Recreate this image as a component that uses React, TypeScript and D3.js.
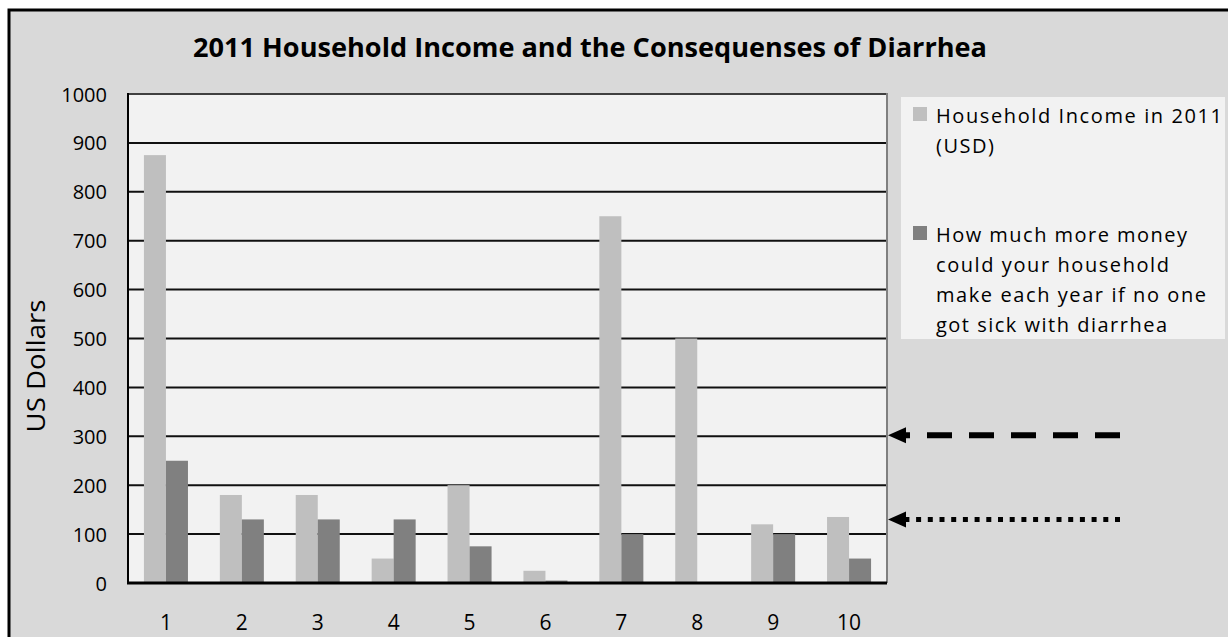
import React from "react";
import * as d3 from "d3";

const categories = ["1", "2", "3", "4", "5", "6", "7", "8", "9", "10"];
const incomeValues = [875, 180, 180, 50, 200, 25, 750, 500, 120, 135];
const extraValues = [250, 130, 130, 130, 75, 5, 100, 0, 100, 50];
const yTicks = [0, 100, 200, 300, 400, 500, 600, 700, 800, 900, 1000];
const seriesNames = ["Household Income in 2011 (USD)", "How much more money could your household make each year if no one got sick with diarrhea"];
const legendLines1 = ["Household Income in 2011", "(USD)"];
const legendLines2 = ["How much more money", "could your household", "make each year if no one", "got sick with diarrhea"];
const legendWidths1 = [286, 58];
const legendWidths2 = [251, 233, 270, 231];
const arrowValues = [300, 130];

const W = 1228;
const H = 637;
const plot = { left: 128, right: 887, top: 94, bottom: 583 };
const FONT = "'Open Sans', 'Noto Sans', sans-serif";

export default function App() {
  const x0 = d3
    .scaleBand<string>()
    .domain(categories)
    .range([plot.left, plot.right])
    .paddingInner(0.42)
    .paddingOuter(0.21);
  const x1 = d3.scaleBand<string>().domain(["a", "b"]).range([0, x0.bandwidth()]);
  const y = d3.scaleLinear().domain([0, 1000]).range([plot.bottom, plot.top]);

  const colors = ["#bfbfbf", "#808080"];

  return (
    <svg width={W} height={H} style={{ position: "absolute", left: 0, top: 0, background: "#fff" }}>
      {/* frame */}
      <rect x={9} y={10} width={1250} height={660} fill="#d9d9d9" stroke="#000" strokeWidth={3} />
      {/* title */}
      <text
        x={590}
        y={57}
        textAnchor="middle"
        fontFamily={FONT}
        fontWeight="bold"
        fontSize={27}
        textLength={794}
        lengthAdjust="spacingAndGlyphs"
        fill="#000"
      >
        2011 Household Income and the Consequenses of Diarrhea
      </text>
      {/* plot area */}
      <rect x={plot.left} y={plot.top} width={plot.right - plot.left} height={plot.bottom - plot.top} fill="#f2f2f2" />
      {/* gridlines */}
      {yTicks.map((t) =>
        t === 0 ? null : (
          <line key={t} x1={plot.left} x2={plot.right} y1={y(t)} y2={y(t)} stroke={t === 1000 ? "#404040" : "#111"} strokeWidth={2} />
        )
      )}
      {/* bars */}
      {categories.map((c, i) => (
        <g key={c} transform={`translate(${x0(c)},0)`}>
          <rect x={x1("a")} y={y(incomeValues[i])} width={x1.bandwidth()} height={y(0) - y(incomeValues[i])} fill={colors[0]}>
            <title>{seriesNames[0]}</title>
          </rect>
          <rect x={x1("b")} y={y(extraValues[i])} width={x1.bandwidth()} height={y(0) - y(extraValues[i])} fill={colors[1]}>
            <title>{seriesNames[1]}</title>
          </rect>
        </g>
      ))}
      {/* borders */}
      <line x1={plot.right} x2={plot.right} y1={plot.top - 1} y2={plot.bottom} stroke="#808080" strokeWidth={2} />
      <line x1={plot.left} x2={plot.left} y1={plot.top - 1} y2={plot.bottom + 1} stroke="#000" strokeWidth={2} />
      <line x1={plot.left - 1} x2={plot.right} y1={plot.bottom} y2={plot.bottom} stroke="#000" strokeWidth={3} />
      {/* y tick labels */}
      {yTicks.map((t) => (
        <text key={t} x={107} y={y(t) + 7.5} textAnchor="end" fontFamily={FONT} fontSize={20} fill="#000">
          {t}
        </text>
      ))}
      {/* x tick labels */}
      {categories.map((c) => (
        <text key={c} x={(x0(c) as number) + x0.bandwidth() / 2} y={630} textAnchor="middle" fontFamily={FONT} fontSize={21} fill="#000">
          {c}
        </text>
      ))}
      {/* y axis title */}
      <text
        transform={`translate(45,366) rotate(-90)`}
        textAnchor="middle"
        fontFamily={FONT}
        fontSize={25}
        textLength={133}
        lengthAdjust="spacingAndGlyphs"
        fill="#000"
      >
        US Dollars
      </text>
      {/* legend */}
      <rect x={901} y={97} width={324} height={242} fill="#f2f2f2" />
      <rect x={913} y={107} width={14} height={14} fill={colors[0]} />
      {legendLines1.map((l, i) => (
        <text key={l} x={936} y={123 + i * 30} fontFamily={FONT} fontSize={20} textLength={legendWidths1[i]} lengthAdjust="spacing" fill="#000">
          {l}
        </text>
      ))}
      <rect x={913} y={226} width={14} height={14} fill={colors[1]} />
      {legendLines2.map((l, i) => (
        <text key={l} x={936} y={242 + i * 30} fontFamily={FONT} fontSize={20} textLength={legendWidths2[i]} lengthAdjust="spacing" fill="#000">
          {l}
        </text>
      ))}
      {/* arrows */}
      {arrowValues.map((v, i) => {
        const ay = y(v) + (i === 0 ? -1 : 0);
        return (
          <g key={v}>
            <line
              x1={1120}
              x2={906}
              y1={ay}
              y2={ay}
              stroke="#000"
              strokeWidth={i === 0 ? 6 : 5}
              strokeDasharray={i === 0 ? "25 17" : "5 6.7"}
            />
            <path d={`M888,${ay} L906,${ay - 8} L906,${ay + 8} Z`} fill="#000" />
          </g>
        );
      })}
    </svg>
  );
}
